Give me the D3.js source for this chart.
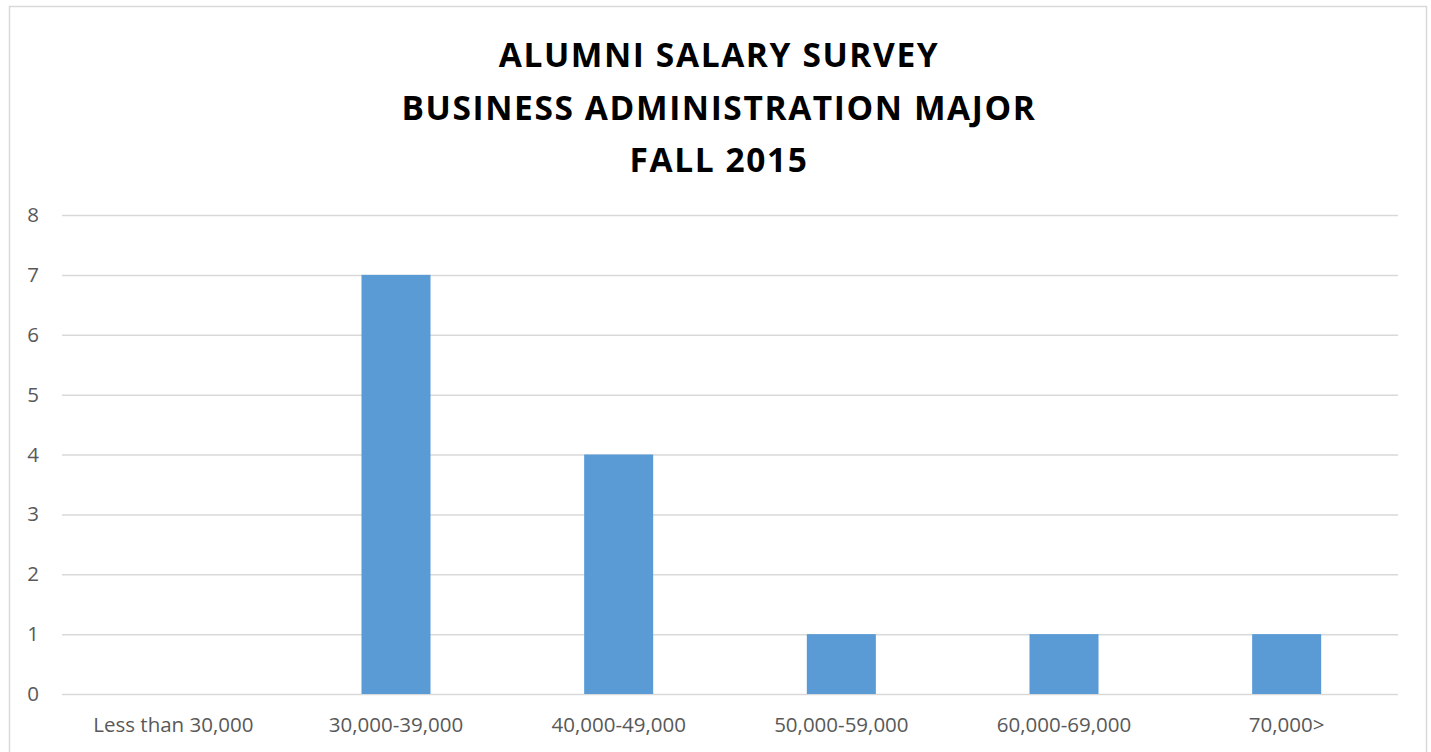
<!DOCTYPE html>
<html>
<head>
<meta charset="utf-8">
<script src="https://cdn.jsdelivr.net/npm/d3@7"></script>
<style>
  html, body { margin: 0; padding: 0; background: #ffffff; }
  svg { display: block; }
</style>
</head>
<body>
<svg id="chart" width="1431" height="752"></svg>
<script>
// Salary ranges and number of alumni reporting each range
const categories = ["Less than 30,000", "30,000-39,000", "40,000-49,000", "50,000-59,000", "60,000-69,000", "70,000>"];
const counts = [0, 7, 4, 1, 1, 1];
const yTicks = [0, 1, 2, 3, 4, 5, 6, 7, 8];
const titleLines = ["ALUMNI SALARY SURVEY", "BUSINESS ADMINISTRATION MAJOR", "FALL 2015"];

const svg = d3.select("#chart");
const plot = { left: 62, right: 1398, top: 215, bottom: 694 };
const FONT = "'Open Sans', 'Liberation Sans', sans-serif";

// Chart-area frame
svg.append("rect")
  .attr("x", 9.5).attr("y", 6.5)
  .attr("width", 1417).attr("height", 760)
  .attr("fill", "#ffffff")
  .attr("stroke", "#d9d9d9").attr("stroke-width", 1.5);

// Title
svg.append("g").selectAll("text")
  .data(titleLines)
  .join("text")
  .attr("x", 719)
  .attr("y", (d, i) => [67, 119.5, 171.5][i])
  .attr("text-anchor", "middle")
  .attr("font-family", FONT)
  .attr("font-weight", "bold")
  .attr("font-size", 33.5)
  .attr("letter-spacing", 1.6)
  .attr("fill", "#000000")
  .text(d => d);

const x = d3.scaleBand()
  .domain(categories)
  .range([plot.left, plot.right])
  .paddingInner(0.69)
  .paddingOuter(0.345);

const y = d3.scaleLinear()
  .domain([0, 8])
  .range([plot.bottom, plot.top]);

// Horizontal gridlines with value labels
const yAxis = d3.axisLeft(y)
  .tickValues(yTicks)
  .tickSize(-(plot.right - plot.left))
  .tickPadding(23)
  .tickFormat(d3.format("d"));

const gy = svg.append("g")
  .attr("transform", `translate(${plot.left},0)`)
  .call(yAxis);
gy.select(".domain").remove();
gy.selectAll(".tick line").attr("stroke", "#d9d9d9").attr("stroke-width", 1.5);
gy.selectAll(".tick text")
  .attr("font-family", FONT)
  .attr("font-size", 20.5)
  .attr("fill", "#595959");

// Bars
svg.append("g").selectAll("rect")
  .data(categories.map((c, i) => ({ c, v: counts[i] })))
  .join("rect")
  .attr("x", d => x(d.c))
  .attr("y", d => y(d.v))
  .attr("width", x.bandwidth())
  .attr("height", d => y(0) - y(d.v))
  .attr("fill", "#5b9bd5");

// Category axis labels
const xAxis = d3.axisBottom(x).tickSize(0).tickPadding(23);
const gx = svg.append("g")
  .attr("transform", `translate(0,${plot.bottom})`)
  .call(xAxis);
gx.select(".domain").remove();
gx.selectAll(".tick text")
  .attr("font-family", FONT)
  .attr("font-size", 20.5)
  .attr("fill", "#595959");
</script>
</body>
</html>
